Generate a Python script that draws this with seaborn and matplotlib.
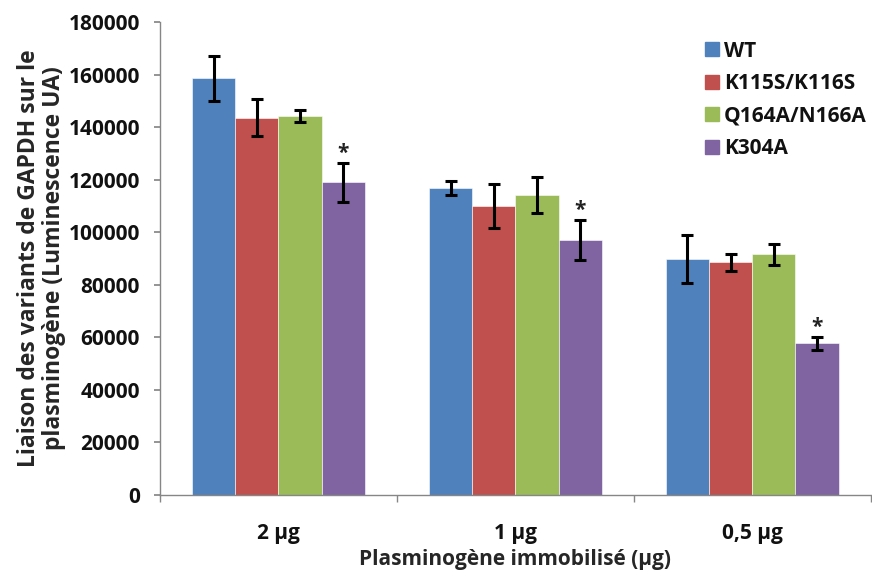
import numpy as np
import pandas as pd
import matplotlib
matplotlib.use("Agg")
import matplotlib.pyplot as plt
import matplotlib.ticker as mticker
from matplotlib.lines import Line2D
import seaborn as sns

# Data
doses = ["2 µg", "1 µg", "0,5 µg"]
variants = ["WT", "K115S/K116S", "Q164A/N166A", "K304A"]
wt = [158500, 116700, 89800]
k115 = [143600, 110000, 88500]
q164 = [144200, 114200, 91600]
k304 = [119000, 97000, 57700]
wt_err = [8600, 2700, 9000]
k115_err = [7000, 8300, 3200]
q164_err = [2300, 6700, 3900]
k304_err = [7400, 7600, 2600]
significant = [False, False, False, True]

colors = ["#4F81BD", "#C0504D", "#9BBB59", "#8064A2"]

sns.set_theme(style="white")
plt.rcParams["font.family"] = ["Open Sans", "DejaVu Sans"]
plt.rcParams["font.weight"] = "bold"
plt.rcParams["text.color"] = "#111111"

values = [wt, k115, q164, k304]
errors = [wt_err, k115_err, q164_err, k304_err]
df = pd.DataFrame({
    "dose": [d for v in variants for d in doses],
    "variant": [v for v in variants for d in doses],
    "value": [x for vals in values for x in vals],
})

fig = plt.figure(figsize=(8.72, 5.74), dpi=100)
ax = fig.add_axes([0.1835, 0.1376, 0.815, 0.8241])

sns.barplot(data=df, x="dose", y="value", hue="variant", order=doses,
            hue_order=variants, palette=colors, width=0.73, gap=0,
            errorbar=None, legend=False, saturation=1, ax=ax,
            edgecolor="white", linewidth=0.4)

bar_containers = list(ax.containers)
for i, cont in enumerate(bar_containers):
    xs = [b.get_x() + b.get_width() / 2 for b in cont]
    ax.errorbar(xs, values[i], yerr=errors[i], fmt="none", ecolor="black",
                elinewidth=2.2, capsize=4, capthick=2.2, zorder=5)
    if significant[i]:
        for x, v, e in zip(xs, values[i], errors[i]):
            ax.text(x, v + e + 3500, "*", ha="center", va="center",
                    fontsize=15, fontweight="bold", color="#222222")

ax.set_ylim(0, 180000)
ax.set_xlim(-0.5, 2.5)
ax.yaxis.set_major_locator(mticker.MultipleLocator(20000))
ax.yaxis.set_major_formatter(mticker.FuncFormatter(lambda v, p: f"{int(v)}"))

for side in ["top", "right"]:
    ax.spines[side].set_visible(False)
for side in ["left", "bottom"]:
    ax.spines[side].set_color("#868686")
    ax.spines[side].set_linewidth(1)

ax.tick_params(axis="y", which="major", left=True, length=4.5, color="#868686",
               labelsize=15, pad=10, labelcolor="#111111")
ax.tick_params(axis="x", which="major", bottom=False, labelsize=15, pad=14,
               labelcolor="#111111")
ax.set_xticks([-0.5, 0.5, 1.5, 2.5], minor=True)
ax.tick_params(axis="x", which="minor", bottom=True, length=5, color="#868686")
for lab in ax.get_xticklabels() + ax.get_yticklabels():
    lab.set_fontweight("bold")

ax.set_xlabel("Plasminogène immobilisé (µg)", fontsize=15, fontweight="bold",
              labelpad=4)
ax.set_ylabel("Liaison des variants de GAPDH sur le\nplasminogène (Luminescence UA)",
              fontsize=16.5, fontweight="bold", labelpad=2, linespacing=1.05)

handles = [Line2D([0], [0], marker="s", linestyle="none", markersize=9.5,
                  markerfacecolor=c, markeredgecolor=c) for c in colors]
ax.legend(handles, variants, loc="upper left", bbox_to_anchor=(0.735, 1.0),
          frameon=False, prop={"weight": "bold", "size": 15},
          handletextpad=0.1, labelspacing=0.55, handlelength=1.0)

fig.savefig("out.png", dpi=100)
